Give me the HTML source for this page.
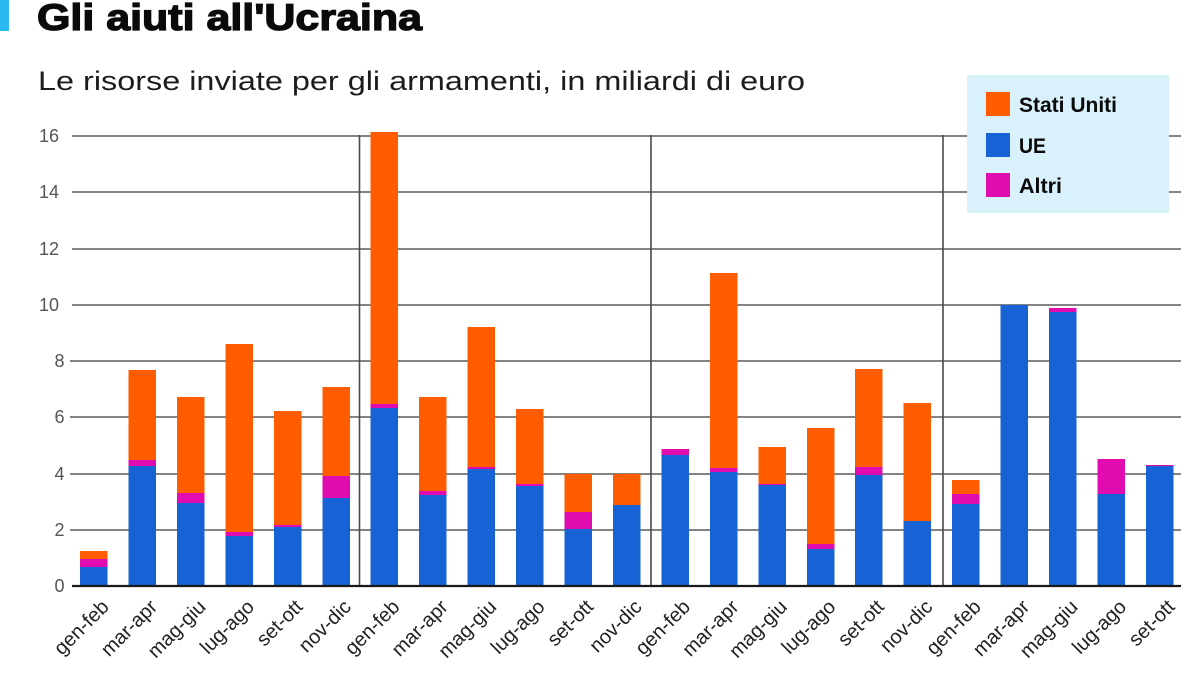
<!DOCTYPE html>
<html>
<head>
<meta charset="utf-8">
<style>
  html,body{margin:0;padding:0;background:#fff;}
  svg{display:block;}
  text{font-family:"Liberation Sans",sans-serif;}
</style>
</head>
<body>
<svg width="1200" height="675" viewBox="0 0 1200 675" xmlns="http://www.w3.org/2000/svg">
  <rect x="0" y="0" width="1200" height="675" fill="#fff"/>
  <!-- accent bar -->
  <rect x="0" y="0" width="9" height="31" fill="#2bb8f0"/>
  <!-- title -->
  <text x="37" y="30" font-size="37" font-weight="bold" fill="#0a0a0a" stroke="#0a0a0a" stroke-width="1.3" textLength="385" lengthAdjust="spacingAndGlyphs">Gli aiuti all'Ucraina</text>
  <!-- subtitle -->
  <text x="38" y="90" font-size="27" fill="#1c1c1c" textLength="767" lengthAdjust="spacingAndGlyphs">Le risorse inviate per gli armamenti, in miliardi di euro</text>

  <!-- grid lines -->
  <g stroke="#5a5a5a" stroke-width="1.6">
    <line x1="72" y1="136" x2="1181" y2="136"/>
    <line x1="72" y1="192" x2="1181" y2="192"/>
    <line x1="72" y1="249" x2="1181" y2="249"/>
    <line x1="72" y1="305" x2="1181" y2="305"/>
    <line x1="70" y1="361" x2="1181" y2="361"/>
    <line x1="70" y1="417" x2="1181" y2="417"/>
    <line x1="70" y1="474" x2="1181" y2="474"/>
    <line x1="70" y1="530" x2="1181" y2="530"/>
  </g>
  <!-- separators -->
  <g stroke="#4a4a4a" stroke-width="1.6">
    <line x1="359.5" y1="135" x2="359.5" y2="586"/>
    <line x1="651" y1="135" x2="651" y2="586"/>
    <line x1="943" y1="135" x2="943" y2="586"/>
  </g>

  <!-- y labels -->
  <g font-size="18" fill="#555">
    <text x="49" y="142" text-anchor="middle">16</text>
    <text x="49" y="198" text-anchor="middle">14</text>
    <text x="49" y="255" text-anchor="middle">12</text>
    <text x="49" y="311" text-anchor="middle">10</text>
    <text x="59.5" y="367" text-anchor="middle">8</text>
    <text x="59.5" y="423" text-anchor="middle">6</text>
    <text x="59.5" y="480" text-anchor="middle">4</text>
    <text x="59.5" y="536" text-anchor="middle">2</text>
    <text x="59.5" y="592" text-anchor="middle">0</text>
  </g>

  <!-- bars -->
  <g shape-rendering="crispEdges">
    <!-- 1 -->
    <rect x="80" y="551" width="27.5" height="35" fill="#ff5c00"/>
    <rect x="80" y="559" width="27.5" height="27" fill="#e10caf"/>
    <rect x="80" y="567" width="27.5" height="19" fill="#1763d6"/>
    <!-- 2 -->
    <rect x="128.45" y="370" width="27.5" height="216" fill="#ff5c00"/>
    <rect x="128.45" y="460" width="27.5" height="126" fill="#e10caf"/>
    <rect x="128.45" y="466" width="27.5" height="120" fill="#1763d6"/>
    <!-- 3 -->
    <rect x="176.9" y="397" width="27.5" height="189" fill="#ff5c00"/>
    <rect x="176.9" y="493" width="27.5" height="93" fill="#e10caf"/>
    <rect x="176.9" y="503" width="27.5" height="83" fill="#1763d6"/>
    <!-- 4 -->
    <rect x="225.35" y="344" width="27.5" height="242" fill="#ff5c00"/>
    <rect x="225.35" y="532" width="27.5" height="54" fill="#e10caf"/>
    <rect x="225.35" y="536" width="27.5" height="50" fill="#1763d6"/>
    <!-- 5 -->
    <rect x="273.8" y="411" width="27.5" height="175" fill="#ff5c00"/>
    <rect x="273.8" y="525" width="27.5" height="61" fill="#e10caf"/>
    <rect x="273.8" y="527" width="27.5" height="59" fill="#1763d6"/>
    <!-- 6 -->
    <rect x="322.25" y="387" width="27.5" height="199" fill="#ff5c00"/>
    <rect x="322.25" y="476" width="27.5" height="110" fill="#e10caf"/>
    <rect x="322.25" y="498" width="27.5" height="88" fill="#1763d6"/>
    <!-- 7 -->
    <rect x="370.7" y="132" width="27.5" height="454" fill="#ff5c00"/>
    <rect x="370.7" y="404" width="27.5" height="182" fill="#e10caf"/>
    <rect x="370.7" y="408" width="27.5" height="178" fill="#1763d6"/>
    <!-- 8 -->
    <rect x="419.15" y="397" width="27.5" height="189" fill="#ff5c00"/>
    <rect x="419.15" y="491" width="27.5" height="95" fill="#e10caf"/>
    <rect x="419.15" y="495" width="27.5" height="91" fill="#1763d6"/>
    <!-- 9 -->
    <rect x="467.6" y="327" width="27.5" height="259" fill="#ff5c00"/>
    <rect x="467.6" y="467" width="27.5" height="119" fill="#e10caf"/>
    <rect x="467.6" y="469" width="27.5" height="117" fill="#1763d6"/>
    <!-- 10 -->
    <rect x="516.05" y="409" width="27.5" height="177" fill="#ff5c00"/>
    <rect x="516.05" y="484" width="27.5" height="102" fill="#e10caf"/>
    <rect x="516.05" y="486" width="27.5" height="100" fill="#1763d6"/>
    <!-- 11 -->
    <rect x="564.5" y="474" width="27.5" height="112" fill="#ff5c00"/>
    <rect x="564.5" y="512" width="27.5" height="74" fill="#e10caf"/>
    <rect x="564.5" y="529" width="27.5" height="57" fill="#1763d6"/>
    <!-- 12 -->
    <rect x="612.95" y="474" width="27.5" height="112" fill="#ff5c00"/>
    <rect x="612.95" y="505" width="27.5" height="81" fill="#1763d6"/>
    <!-- 13 -->
    <rect x="661.4" y="449" width="27.5" height="137" fill="#e10caf"/>
    <rect x="661.4" y="455" width="27.5" height="131" fill="#1763d6"/>
    <!-- 14 -->
    <rect x="709.85" y="273" width="27.5" height="313" fill="#ff5c00"/>
    <rect x="709.85" y="468" width="27.5" height="118" fill="#e10caf"/>
    <rect x="709.85" y="472" width="27.5" height="114" fill="#1763d6"/>
    <!-- 15 -->
    <rect x="758.3" y="447" width="27.5" height="139" fill="#ff5c00"/>
    <rect x="758.3" y="484" width="27.5" height="102" fill="#e10caf"/>
    <rect x="758.3" y="485" width="27.5" height="101" fill="#1763d6"/>
    <!-- 16 -->
    <rect x="806.75" y="428" width="27.5" height="158" fill="#ff5c00"/>
    <rect x="806.75" y="544" width="27.5" height="42" fill="#e10caf"/>
    <rect x="806.75" y="549" width="27.5" height="37" fill="#1763d6"/>
    <!-- 17 -->
    <rect x="855.2" y="369" width="27.5" height="217" fill="#ff5c00"/>
    <rect x="855.2" y="467" width="27.5" height="119" fill="#e10caf"/>
    <rect x="855.2" y="475" width="27.5" height="111" fill="#1763d6"/>
    <!-- 18 -->
    <rect x="903.65" y="403" width="27.5" height="183" fill="#ff5c00"/>
    <rect x="903.65" y="521" width="27.5" height="65" fill="#1763d6"/>
    <!-- 19 -->
    <rect x="952.1" y="480" width="27.5" height="106" fill="#ff5c00"/>
    <rect x="952.1" y="494" width="27.5" height="92" fill="#e10caf"/>
    <rect x="952.1" y="504" width="27.5" height="82" fill="#1763d6"/>
    <!-- 20 -->
    <rect x="1000.55" y="305" width="27.5" height="281" fill="#1763d6"/>
    <!-- 21 -->
    <rect x="1049" y="308" width="27.5" height="278" fill="#e10caf"/>
    <rect x="1049" y="312" width="27.5" height="274" fill="#1763d6"/>
    <!-- 22 -->
    <rect x="1097.45" y="459" width="27.5" height="127" fill="#e10caf"/>
    <rect x="1097.45" y="494" width="27.5" height="92" fill="#1763d6"/>
    <!-- 23 -->
    <rect x="1145.9" y="465" width="27.5" height="121" fill="#e10caf"/>
    <rect x="1145.9" y="466" width="27.5" height="120" fill="#1763d6"/>
  </g>

  <!-- baseline -->
  <line x1="72" y1="586" x2="1181" y2="586" stroke="#1a1a1a" stroke-width="2.2"/>

  <!-- legend -->
  <rect x="967" y="75" width="202" height="138" fill="#d9f1fb"/>
  <rect x="986" y="92" width="24" height="24" fill="#ff5c00"/>
  <rect x="986" y="133" width="24" height="24" fill="#1763d6"/>
  <rect x="986" y="173" width="24" height="24" fill="#e10caf"/>
  <g font-size="21" font-weight="bold" fill="#0a0a0a">
    <text x="1019" y="112" textLength="98" lengthAdjust="spacingAndGlyphs">Stati Uniti</text>
    <text x="1019" y="153" textLength="27" lengthAdjust="spacingAndGlyphs">UE</text>
    <text x="1019" y="193" textLength="43" lengthAdjust="spacingAndGlyphs">Altri</text>
  </g>

  <!-- x labels -->
  <g font-size="20" fill="#222" text-anchor="end">
    <text transform="translate(110,608) rotate(-45)">gen-feb</text>
    <text transform="translate(158.45,608) rotate(-45)">mar-apr</text>
    <text transform="translate(206.9,608) rotate(-45)">mag-giu</text>
    <text transform="translate(255.35,608) rotate(-45)">lug-ago</text>
    <text transform="translate(303.8,608) rotate(-45)">set-ott</text>
    <text transform="translate(352.25,608) rotate(-45)">nov-dic</text>
    <text transform="translate(400.7,608) rotate(-45)">gen-feb</text>
    <text transform="translate(449.15,608) rotate(-45)">mar-apr</text>
    <text transform="translate(497.6,608) rotate(-45)">mag-giu</text>
    <text transform="translate(546.05,608) rotate(-45)">lug-ago</text>
    <text transform="translate(594.5,608) rotate(-45)">set-ott</text>
    <text transform="translate(642.95,608) rotate(-45)">nov-dic</text>
    <text transform="translate(691.4,608) rotate(-45)">gen-feb</text>
    <text transform="translate(739.85,608) rotate(-45)">mar-apr</text>
    <text transform="translate(788.3,608) rotate(-45)">mag-giu</text>
    <text transform="translate(836.75,608) rotate(-45)">lug-ago</text>
    <text transform="translate(885.2,608) rotate(-45)">set-ott</text>
    <text transform="translate(933.65,608) rotate(-45)">nov-dic</text>
    <text transform="translate(982.1,608) rotate(-45)">gen-feb</text>
    <text transform="translate(1030.55,608) rotate(-45)">mar-apr</text>
    <text transform="translate(1079,608) rotate(-45)">mag-giu</text>
    <text transform="translate(1127.45,608) rotate(-45)">lug-ago</text>
    <text transform="translate(1175.9,608) rotate(-45)">set-ott</text>
  </g>
</svg>
</body>
</html>
